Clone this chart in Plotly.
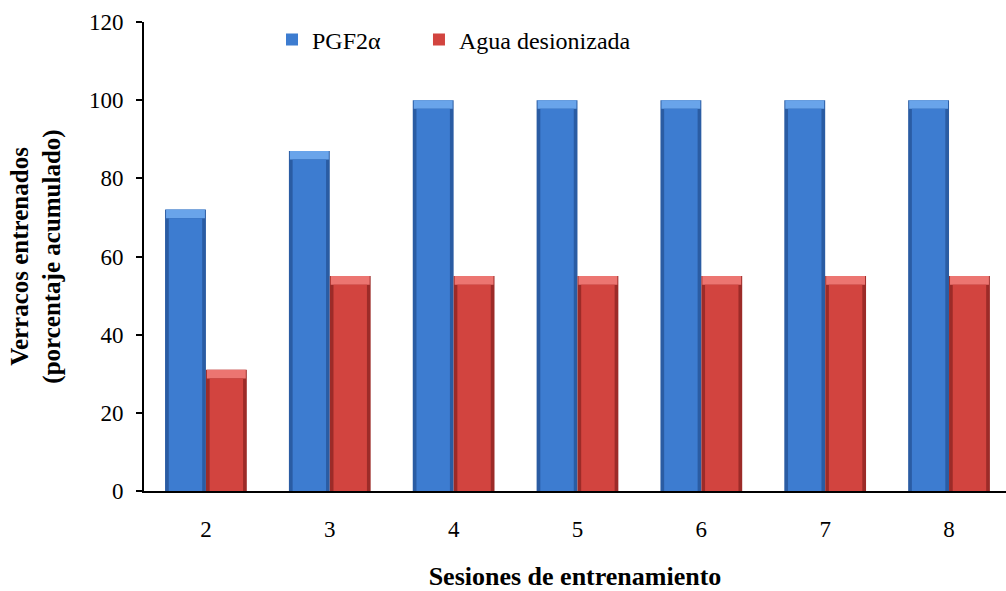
import plotly.graph_objects as go

# Training sessions and cumulative percentage of trained boars
sesiones = ["2", "3", "4", "5", "6", "7", "8"]
pgf2a = [72, 87, 100, 100, 100, 100, 100]
agua = [31, 55, 55, 55, 55, 55, 55]
y_ticks = [0, 20, 40, 60, 80, 100, 120]

SERIF = "Liberation Serif"
BAR_W = 0.33      # width of one bar, in category units
BEVEL = 2.2       # height of the lighter top bevel, in axis units

series = [
    # name, values, legend, offset, (edge, top, body) colours
    ("PGF2α", pgf2a, "legend", -BAR_W, ("#2a5ca3", "#69a4ea", "#3d7cd0")),
    ("Agua desionizada", agua, "legend2", 0.0, ("#9c2b28", "#ec7571", "#d2443f")),
]

fig = go.Figure()
for name, vals, leg, off, (edge, top, body) in series:
    # dark outer shell
    fig.add_trace(go.Bar(
        x=sesiones, y=vals, offset=off, width=BAR_W,
        marker=dict(color=edge, line=dict(width=0)),
        showlegend=False, hoverinfo="skip",
    ))
    # light bevel along the top
    fig.add_trace(go.Bar(
        x=sesiones, y=[BEVEL] * len(vals), base=[v - BEVEL for v in vals],
        offset=off + 0.008, width=BAR_W - 0.016,
        marker=dict(color=top, line=dict(width=0)),
        showlegend=False, hoverinfo="skip",
    ))
    # main body of the bar
    fig.add_trace(go.Bar(
        x=sesiones, y=[v - BEVEL for v in vals],
        offset=off + 0.03, width=BAR_W - 0.06,
        marker=dict(color=body, line=dict(width=0)),
        name=name, legend=leg,
        customdata=vals, hovertemplate="%{x}: %{customdata}<extra>" + name + "</extra>",
    ))

leg_common = dict(orientation="h", y=0.962, xanchor="left", yanchor="middle",
                  font=dict(family=SERIF, size=24), bgcolor="rgba(0,0,0,0)")

fig.update_layout(
    width=1006, height=591,
    margin=dict(l=144, r=0, t=22, b=100),
    paper_bgcolor="white", plot_bgcolor="white",
    showlegend=True,
    barmode="overlay",
    font=dict(family=SERIF, size=23, color="black"),
    legend=dict(x=0.1485, **leg_common),
    legend2=dict(x=0.319, **leg_common),
    xaxis=dict(
        type="category", range=[-0.5, 6.46],
        showline=True, linecolor="black", linewidth=2,
        ticks="", showgrid=False, ticklabelstandoff=16,
        tickfont=dict(family=SERIF, size=23),
        title=dict(text="<b>Sesiones de entrenamiento</b>",
                   font=dict(family=SERIF, size=26), standoff=30),
    ),
    yaxis=dict(
        range=[0, 120], tickvals=y_ticks,
        showline=True, linecolor="black", linewidth=2,
        ticks="outside", ticklen=6, tickwidth=2, tickcolor="black",
        showgrid=False, zeroline=False, ticklabelstandoff=8,
        tickfont=dict(family=SERIF, size=23),
        title=dict(text="<b>Verracos entrenados<br>(porcentaje acumulado)</b>",
                   font=dict(family=SERIF, size=25), standoff=21),
    ),
)

fig.write_html("out.html")
